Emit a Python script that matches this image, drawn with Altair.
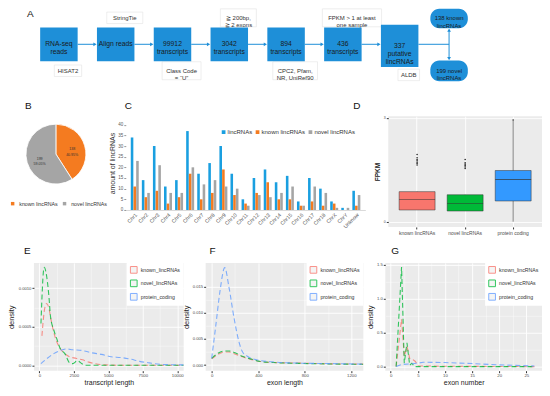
import altair as alt
import pandas as pd

# ---------------- Panel A : pipeline ----------------
steps = ["RNA-seq\nreads", "Align reads", "99912\ntranscripts", "3042\ntranscripts",
         "894\ntranscripts", "436\ntranscripts", "337\nputative\nlincRNAs"]
outcomes = ["138 known\nlincRNAs", "199 novel\nlincRNAs"]
notes = ["HISAT2", "StringTie", "Class Code\n=  \u201cU\u201d", "\u2267 200bp,\n\u2267 2 exons",
         "CPC2, Pfam,\nNR, UniRef90", "FPKM > 1 at least\none sample", "ALDB"]
note_side = ["below", "above", "below", "above", "below", "above", "below"]

# ---------------- Panel B : pie ----------------
pie_types = ["known lincRNAs", "novel lincRNAs"]
pie_counts = [138, 199]
pie_pcts = ["40.95%", "59.05%"]

# ---------------- Panel C : per chromosome ----------------
chroms = ["Chr1", "Chr2", "Chr3", "Chr4", "Chr5", "Chr6", "Chr7", "Chr8", "Chr9", "Chr10",
          "Chr11", "Chr12", "Chr13", "Chr14", "Chr15", "Chr16", "Chr17", "Chr18", "ChrX",
          "ChrY", "Unknow"]
c_series = ["lincRNAs", "known lincRNAs", "novel lincRNAs"]
c_lincRNAs = [34, 14, 30, 11, 14, 37, 17, 22, 30, 17, 5, 15, 19, 13, 16, 4, 15, 10, 4, 1, 9]
c_known = [11, 6, 9, 3, 6, 17, 5, 8, 19, 7, 3, 8, 13, 5, 5, 2, 4, 2, 3, 0, 2]
c_novel = [23, 8, 21, 8, 8, 20, 12, 14, 11, 10, 2, 7, 6, 8, 11, 2, 11, 8, 1, 1, 7]
c_ticks = [0, 5, 10, 15, 20, 25, 30, 35, 40]

# ---------------- Panel D : FPKM boxplot ----------------
d_groups = ["known lincRNAs", "novel lincRNAs", "protein coding"]
d_low = [0.34, 0.31, 0.0]
d_q1 = [0.34, 0.31, 0.60]
d_med = [0.64, 0.53, 1.22]
d_q3 = [0.87, 0.78, 1.48]
d_high = [0.87, 0.78, 2.92]
d_out_known = [1.64, 1.68, 1.72, 1.76, 1.80, 1.85, 1.94]
d_out_novel = [1.54, 1.58, 1.62, 1.66, 1.70, 1.80]
d_out_protein = [2.94]

# ---------------- Panels E-G : densities ----------------
dens_names = ["known_lincRNAs", "novel_lincRNAs", "protein_coding"]
e_known_x = [185, 390, 530, 690, 855, 1040, 1270, 1500, 1850, 2190, 2650, 3120, 3580, 4040, 4730, 5890, 10460]
e_known_y = [0.00038, 0.00074, 0.00080, 0.00074, 0.00058, 0.00043, 0.00030, 0.00022, 0.00015, 0.00011,
             0.00009, 0.00007, 0.00004, 0.00002, 0.000004, 0.0, 0.0]
e_novel_x = [115, 346, 577, 693, 808, 1039, 1270, 1500, 1848, 2194, 2425, 2771, 3002, 3349, 4500, 10460]
e_novel_y = [0.00054, 0.00127, 0.00109, 0.00089, 0.00063, 0.00046, 0.00034, 0.00022, 0.00015, 0.00003,
             0.00002, 0.00006, 0.00003, 0.0, 0.0, 0.0]
e_prot_x = [115, 577, 1040, 1500, 1960, 2425, 3120, 3810, 4500, 5200, 5890, 6580, 7270, 7970, 8890, 10460]
e_prot_y = [0.00002, 0.00009, 0.00015, 0.00019, 0.00021, 0.00020, 0.00019, 0.00016, 0.00014, 0.00011,
            0.00010, 0.00008, 0.00005, 0.00003, 0.00001, 0.000004]

f_known_x = [0, 49, 106, 149, 206, 263, 335, 421, 535, 736, 1022, 1303]
f_known_y = [0.0012, 0.0020, 0.0025, 0.0025, 0.0021, 0.0016, 0.0011, 0.0007, 0.0005, 0.0004, 0.00025, 0.0002]
f_novel_x = [0, 49, 106, 149, 206, 263, 335, 421, 535, 736, 1022, 1303]
f_novel_y = [0.0013, 0.0022, 0.0027, 0.0027, 0.0023, 0.0017, 0.0012, 0.0007, 0.0005, 0.00035, 0.00023, 0.00017]
f_prot_x = [0, 34, 72, 112, 149, 192, 235, 263, 306, 392, 535, 736, 1022, 1303]
f_prot_y = [0.0013, 0.0073, 0.0142, 0.0186, 0.0148, 0.0090, 0.0044, 0.0026, 0.0017, 0.0010, 0.0006,
            0.0004, 0.0003, 0.0002]

g_known_x = [1.0, 2.0, 2.5, 3.0, 3.5, 3.8, 4.5, 5.1, 6.0, 10.0, 26.5]
g_known_y = [0.0, 0.70, 0.15, 0.30, 0.12, 0.12, 0.08, 0.01, 0.01, 0.005, 0.0]
g_novel_x = [1.0, 2.0, 2.5, 3.0, 3.5, 3.9, 4.4, 26.5]
g_novel_y = [0.0, 1.47, 0.05, 0.35, 0.02, 0.05, 0.0, 0.0]
g_prot_x = [1.0, 2.0, 5.0, 6.0, 10.0, 15.0, 20.0, 26.5]
g_prot_y = [0.0, 0.03, 0.05, 0.065, 0.06, 0.045, 0.025, 0.01]

# ---------------- styles / layout ----------------
BLUE = "#1E8FD8"
FONT = "Liberation Sans"
GG_BG = "#EBEBEB"
GG_COLS = ["#F8766D", "#00BA38", "#619CFF"]
ORIGIN = 33          # screen x where every row's first view starts
RIGHT = 542          # screen x of right edge
NUDGE = -4           # small correction for letter labels


def ttl(letter, screen_x, view_x, offset):
    return alt.TitleParams(letter, anchor="start", frame="group", dx=screen_x - view_x + NUDGE,
                           offset=offset)


# ======================= Panel A =======================
HALF = 0.33
PX_X = 56.9   # px per step unit
PX_Y = 26.0   # px per level unit
FIRST = 58    # screen x of first step centre
n = len(steps)
box = pd.DataFrame({"label": steps, "i": list(range(n))})
box["x0"] = box["i"] - HALF
box["x1"] = box["i"] + HALF
box["y0"] = [0.65] * (n - 1) + [0.75]
box["y1"] = [-0.65] * (n - 1) + [-0.88]
box["yc"] = (box["y0"] + box["y1"]) / 2

BX = n - 1 + 0.87
out = pd.DataFrame({"label": outcomes, "x": [BX, BX]})
out["x0"] = out["x"] - HALF
out["x1"] = out["x"] + HALF
out["y0"] = [1.37, -0.62]
out["y1"] = [0.62, -1.42]
out["yc"] = (out["y0"] + out["y1"]) / 2

arr = pd.DataFrame({"i": list(range(n - 1))})
arr["x0"] = arr["i"] + HALF
arr["x1"] = arr["i"] + 1 - HALF - 0.05
arr["xh"] = arr["i"] + 1 - HALF - 0.035
arr["y"] = 0.0
branch_h = pd.DataFrame({"x0": [n - 1 + HALF], "x1": [BX], "y": [0.0]})
branch_v = pd.DataFrame({"x": [BX], "y0": [0.53], "y1": [-0.52]})
heads_v = pd.DataFrame({"x": [BX, BX], "y": [0.55, -0.55], "shape": ["triangle-up", "triangle-down"]})

nt = pd.DataFrame({"label": notes, "side": note_side, "step": list(range(n))})
nt["x"] = nt["step"] + 0.16
nt["y"] = [1.02 if s == "above" else -1.02 for s in nt["side"]]
nt.loc[n - 1, "y"] = -1.18
nt["lines"] = [len(s.split("\n")) for s in nt["label"]]
nt["chars"] = [max(len(l) for l in s.split("\n")) for s in nt["label"]]
nt["hw"] = (nt["chars"] * 2.9 + 10) / 2 / PX_X
nt["hh"] = (nt["lines"] * 6.5 + 5) / 2 / PX_Y
nt["x0"] = nt["x"] - nt["hw"]
nt["x1"] = nt["x"] + nt["hw"]
nt["y0"] = nt["y"] + nt["hh"]
nt["y1"] = nt["y"] - nt["hh"]

letterA = pd.DataFrame({"t": ["A"], "x": [(26 - FIRST) / PX_X], "y": [1.15]})

A_H = 82
A_W = RIGHT - ORIGIN
XS = alt.Scale(domain=[(ORIGIN - FIRST) / PX_X, (RIGHT - FIRST) / PX_X], nice=False, zero=False)
YS = alt.Scale(domain=[-(A_H - 36) / PX_Y, 36 / PX_Y], nice=False, zero=False)


def qx(f):
    return alt.X(f, type="quantitative", scale=XS, axis=None)


def qy(f):
    return alt.Y(f, type="quantitative", scale=YS, axis=None)


a_layers = [
    alt.Chart(nt).mark_rect(fill="white", stroke="#E2E2E2", strokeWidth=0.6).encode(
        x=qx("x0"), x2="x1", y=qy("y0"), y2="y1"),
    alt.Chart(nt).mark_text(fontSize=6, lineHeight=6.8, lineBreak="\n", color="#333333", font=FONT).encode(
        x=qx("x"), y=qy("y"), text="label:N"),
    alt.Chart(arr).mark_rule(color=BLUE, strokeWidth=1).encode(x=qx("x0"), x2="x1", y=qy("y")),
    alt.Chart(arr).mark_point(shape="triangle-right", filled=True, size=14, color=BLUE, opacity=1).encode(
        x=qx("xh"), y=qy("y")),
    alt.Chart(branch_h).mark_rule(color=BLUE, strokeWidth=1).encode(x=qx("x0"), x2="x1", y=qy("y")),
    alt.Chart(branch_v).mark_rule(color=BLUE, strokeWidth=1).encode(x=qx("x"), y=qy("y0"), y2="y1"),
    alt.Chart(heads_v).mark_point(filled=True, size=14, color=BLUE, opacity=1).encode(
        x=qx("x"), y=qy("y"), shape=alt.Shape("shape:N", scale=None)),
    alt.Chart(box).mark_rect(color=BLUE).encode(x=qx("x0"), x2="x1", y=qy("y0"), y2="y1"),
    alt.Chart(box).mark_text(fontSize=6.8, lineHeight=8, lineBreak="\n", color="#1A1A1A", font=FONT).encode(
        x=qx("i"), y=qy("yc"), text="label:N"),
    alt.Chart(out).mark_rect(color=BLUE, cornerRadius=9).encode(x=qx("x0"), x2="x1", y=qy("y0"), y2="y1"),
    alt.Chart(out).mark_text(fontSize=6, lineHeight=7.5, lineBreak="\n", color="#1A1A1A", font=FONT).encode(
        x=qx("x"), y=qy("yc"), text="label:N"),
    alt.Chart(letterA).mark_text(fontSize=10, align="left", color="#111111", font=FONT).encode(
        x=qx("x"), y=qy("y"), text="t:N"),
]
rowA = alt.layer(*a_layers).properties(width=A_W, height=A_H)

# ======================= Panel B =======================
PIE_CX = 55 - ORIGIN
C_LEFT = 125
SP2 = 23
PIE_W = C_LEFT - SP2 - ORIGIN
pie_df = pd.DataFrame({"type": pie_types, "count": pie_counts, "pct": pie_pcts, "o": [0, 1]})
pie_df["lab"] = pie_df["count"].astype(str) + "\n" + pie_df["pct"]
pbase = alt.Chart(pie_df).encode(theta=alt.Theta("count:Q", stack=True), order=alt.Order("o:Q"),
                                 x=alt.value(PIE_CX), y=alt.value(38))
arcs = pbase.mark_arc(outerRadius=30, stroke="white", strokeWidth=0.8).encode(
    color=alt.Color("type:N", scale=alt.Scale(domain=pie_types, range=["#F47B20", "#A5A5A5"]),
                    legend=alt.Legend(title=None, orient="none", legendX=9 - ORIGIN, legendY=85,
                                      direction="horizontal",
                                      symbolType="square", symbolSize=12, labelFontSize=5.3,
                                      labelColor="#333333", padding=0, columnPadding=4,
                                      symbolStrokeWidth=0)))
plabels = pbase.mark_text(radius=17, fontSize=3.6, lineBreak="\n", color="#333333").encode(text="lab:N")
pie = alt.layer(arcs, plabels).properties(width=PIE_W, height=76, title=ttl("B", 28, ORIGIN, 5))

# ======================= Panel C =======================
C_W = 240
c_df = pd.DataFrame({
    "chr": chroms * 3,
    "series": [c_series[0]] * len(chroms) + [c_series[1]] * len(chroms) + [c_series[2]] * len(chroms),
    "value": c_lincRNAs + c_known + c_novel,
})
cchart = alt.Chart(c_df).mark_bar().encode(
    x=alt.X("chr:N", sort=chroms, scale=alt.Scale(paddingInner=0.28, paddingOuter=0.45),
            axis=alt.Axis(title=None, labelAngle=-45, labelFontSize=5.3, labelColor="#555555",
                          ticks=False, domainColor="#D9D9D9", labelPadding=2)),
    xOffset=alt.XOffset("series:N", sort=c_series, scale=alt.Scale(paddingInner=0.05)),
    y=alt.Y("value:Q", scale=alt.Scale(domain=[0, 44], nice=False),
            axis=alt.Axis(values=c_ticks, title="amount of lincRNAs", titleFontSize=7,
                          titleFontWeight="normal", titleColor="#333333", titlePadding=2,
                          labelFontSize=4.5, labelColor="#595959", tickSize=2, tickColor="#999999",
                          domain=False, grid=False, labelPadding=1, minExtent=0)),
    color=alt.Color("series:N", sort=c_series,
                    scale=alt.Scale(domain=c_series, range=["#1A9FE0", "#F47B20", "#A5A5A5"]),
                    legend=alt.Legend(title=None, orient="none", legendX=95, legendY=13,
                                      direction="horizontal", symbolType="square", symbolSize=14,
                                      labelFontSize=6, labelColor="#333333", columnPadding=2,
                                      symbolStrokeWidth=0, padding=0, labelOffset=1)),
).properties(width=C_W, height=94, title=ttl("C", 128, C_LEFT, 5))

# ======================= Panel D =======================
D_LEFT = C_LEFT + C_W + SP2
d_df = pd.DataFrame({"g": d_groups, "low": d_low, "q1": d_q1, "med": d_med, "q3": d_q3, "high": d_high})
d_out = pd.DataFrame({
    "g": [d_groups[0]] * len(d_out_known) + [d_groups[1]] * len(d_out_novel) + [d_groups[2]] * len(d_out_protein),
    "v": d_out_known + d_out_novel + d_out_protein,
})
DXS = alt.Scale(domain=d_groups, paddingInner=0, paddingOuter=0.1)
DYS = alt.Scale(domain=[-0.15, 3.05], nice=False, zero=False)
minor_d = "abs(datum.value - round(datum.value)) > 0.01"
d_yaxis = alt.Axis(values=[0, 0.5, 1, 1.5, 2, 2.5, 3], title="FPKM", titleFontSize=6.5,
                   titleFontWeight="bold", titleColor="#222222", titlePadding=3,
                   labelExpr=minor_d + " ? '' : datum.label",
                   labelFontSize=3.5, labelColor="#4D4D4D", labelPadding=1, minExtent=0,
                   tickSize={"condition": {"test": minor_d, "value": 0}, "value": 2},
                   tickColor="#333333", domain=False, grid=True, gridColor="white",
                   gridWidth={"condition": {"test": minor_d, "value": 0.4}, "value": 0.9})
d_xaxis = alt.Axis(title=None, labelFontSize=5, labelColor="#4D4D4D", labelAngle=0, tickSize=2,
                   tickColor="#333333", domain=False, grid=True, gridColor="white", gridWidth=0.9,
                   labelPadding=2)
d_w = alt.Chart(d_df).mark_rule(color="#333333", strokeWidth=0.6).encode(
    x=alt.X("g:N", scale=DXS, axis=d_xaxis, sort=d_groups),
    y=alt.Y("low:Q", scale=DYS, axis=d_yaxis), y2="high")
d_box = alt.Chart(d_df).mark_bar(size=36, stroke="#333333", strokeWidth=0.5).encode(
    x=alt.X("g:N", scale=DXS, sort=d_groups), y=alt.Y("q1:Q", scale=DYS), y2="q3",
    color=alt.Color("g:N", scale=alt.Scale(domain=d_groups, range=["#F8766D", "#00BA38", "#3399FF"]),
                    legend=None))
d_med = alt.Chart(d_df).mark_tick(size=36, thickness=0.8, color="#333333").encode(
    x=alt.X("g:N", scale=DXS, sort=d_groups), y=alt.Y("med:Q", scale=DYS))
d_pts = alt.Chart(d_out).mark_circle(size=2.5, color="#222222", opacity=1).encode(
    x=alt.X("g:N", scale=DXS, sort=d_groups), y=alt.Y("v:Q", scale=DYS))
dchart = alt.layer(d_w, d_box, d_med, d_pts).properties(
    width=RIGHT - D_LEFT, height=111, view=alt.ViewBackground(fill=GG_BG, stroke=None),
    title=ttl("D", 357, D_LEFT, 5))

# ======================= Panels E-G =======================
def dens_df(xs_list, ys_list):
    rows = []
    for name, xs, ys in zip(dens_names, xs_list, ys_list):
        for x, y in zip(xs, ys):
            rows.append({"type": name, "x": x, "y": y})
    return pd.DataFrame(rows)


def minor_test(step):
    return f"abs(datum.value / {step} - round(datum.value / {step})) > 0.01"


def dens_chart(df, letter, xtitle, xdom, ydom, xstep, xmax, ystep, ymax, yfmt, w, interp, title, yext):
    xvals = [k * xstep / 2 for k in range(0, int(round(xmax / (xstep / 2))) + 1)]
    yvals = [k * ystep / 2 for k in range(0, int(round(ymax / (ystep / 2))) + 1)]
    xt, yt = minor_test(xstep), minor_test(ystep)
    xaxis = alt.Axis(values=xvals, title=xtitle, format="d", labelExpr=f"{xt} ? '' : datum.label",
                     titleFontSize=7, titleFontWeight="normal", titleColor="#222222", titlePadding=1,
                     labelFontSize=4.3, labelColor="#4D4D4D", labelPadding=1,
                     tickSize={"condition": {"test": xt, "value": 0}, "value": 2}, tickColor="#333333",
                     domain=False, grid=True, gridColor="white",
                     gridWidth={"condition": {"test": xt, "value": 0.4}, "value": 0.9})
    yaxis = alt.Axis(values=yvals, title="density", format=yfmt, labelExpr=f"{yt} ? '' : datum.label",
                     titleFontSize=7.5, titleFontWeight="normal", titleColor="#222222", titlePadding=1,
                     labelFontSize=4.2, labelColor="#4D4D4D", labelPadding=1,
                     minExtent=yext, maxExtent=yext,
                     tickSize={"condition": {"test": yt, "value": 0}, "value": 2}, tickColor="#333333",
                     domain=False, grid=True, gridColor="white",
                     gridWidth={"condition": {"test": yt, "value": 0.4}, "value": 0.9})
    return alt.Chart(df).mark_line(strokeDash=[5, 3], strokeWidth=1.1, interpolate=interp,
                                   opacity=0.8, clip=True).encode(
        x=alt.X("x:Q", scale=alt.Scale(domain=xdom, nice=False, zero=False), axis=xaxis),
        y=alt.Y("y:Q", scale=alt.Scale(domain=ydom, nice=False, zero=False), axis=yaxis),
        color=alt.Color("type:N", scale=alt.Scale(domain=dens_names, range=GG_COLS),
                        legend=alt.Legend(title=None, orient="top-right", offset=0, padding=3,
                                          fillColor="white", labelFontSize=5.2, labelColor="#333333",
                                          symbolType="square", symbolSize=45, symbolFillColor="#F2F2F2",
                                          symbolStrokeWidth=1, rowPadding=1.5, labelOffset=3)),
        detail="type:N",
    ).properties(width=w, height=108, view=alt.ViewBackground(fill=GG_BG, stroke=None), title=title)


SP3 = 22
E_W = 183 - ORIGIN
F_LEFT = ORIGIN + E_W + SP3
F_W = 158
G_LEFT = F_LEFT + F_W + SP3
G_W = RIGHT - G_LEFT
e_chart = dens_chart(dens_df([e_known_x, e_novel_x, e_prot_x], [e_known_y, e_novel_y, e_prot_y]),
                     "E", "transcript length", [-393, 10462], [-0.000071, 0.001327],
                     2500, 10000, 0.0005, 0.001, ".4f", E_W, "monotone", ttl("E", 27, ORIGIN, 7), 17)
f_chart = dens_chart(dens_df([f_known_x, f_novel_x, f_prot_x], [f_known_y, f_novel_y, f_prot_y]),
                     "F", "exon length", [-52, 1303], [-0.00105, 0.0195],
                     400, 1200, 0.005, 0.015, ".3f", F_W, "monotone", ttl("F", 213, F_LEFT, 7), 14)
g_chart = dens_chart(dens_df([g_known_x, g_novel_x, g_prot_x], [g_known_y, g_novel_y, g_prot_y]),
                     "G", "exon number", [-1.0, 27.9], [-0.06, 1.53],
                     5, 25, 0.5, 1.5, ".1f", G_W, "linear", ttl("G", 395, G_LEFT, 7), 10)

row2 = alt.hconcat(pie, cchart, dchart, spacing=SP2, bounds="flush").resolve_scale(
    color="independent").resolve_legend(color="independent")
row3 = alt.hconcat(e_chart, f_chart, g_chart, spacing=SP3, bounds="flush").resolve_scale(
    color="independent", x="independent", y="independent").resolve_legend(color="independent")

chart = alt.vconcat(rowA, row2, row3, spacing=10).resolve_scale(
    color="independent").resolve_legend(color="independent").properties(padding=0).configure(
    font=FONT).configure_view(stroke=None).configure_title(
    font=FONT, fontSize=10, fontWeight="normal", color="#111111", anchor="start")

chart.save("out.html", embed_options={"renderer": "svg", "actions": False})
